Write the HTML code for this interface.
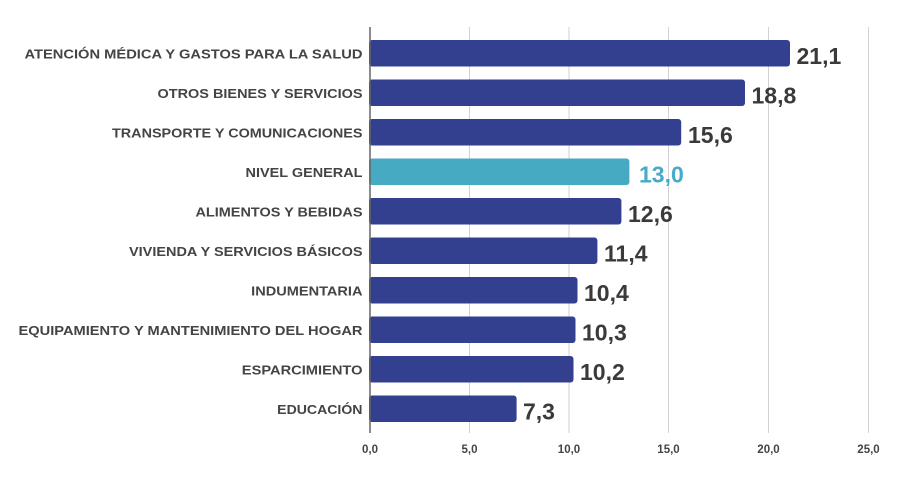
<!DOCTYPE html>
<html>
<head>
<meta charset="utf-8">
<style>
html,body{margin:0;padding:0;background:#fff;}
svg{display:block;}
text{font-family:"Liberation Sans",Arial,sans-serif;font-weight:bold;}
</style>
</head>
<body>
<svg width="900" height="486" viewBox="0 0 900 486" xmlns="http://www.w3.org/2000/svg">
  <rect width="900" height="486" fill="#fff"/>
  <!-- gridlines -->
  <g stroke="#d2d2d2" stroke-width="1">
    <line x1="469.5" y1="27" x2="469.5" y2="433"/>
    <line x1="569" y1="27" x2="569" y2="433"/>
    <line x1="668.5" y1="27" x2="668.5" y2="433"/>
    <line x1="768.5" y1="27" x2="768.5" y2="433"/>
    <line x1="868.5" y1="27" x2="868.5" y2="433"/>
  </g>
  <!-- bars -->
  <g fill="#333f8f">
    <rect x="369" y="40" width="421" height="26.5" rx="3"/>
    <rect x="369" y="79.5" width="376" height="26.5" rx="3"/>
    <rect x="369" y="119" width="312.2" height="26.5" rx="3"/>
    <rect x="369" y="198" width="252.4" height="26.5" rx="3"/>
    <rect x="369" y="237.5" width="228.4" height="26.5" rx="3"/>
    <rect x="369" y="277" width="208.5" height="26.5" rx="3"/>
    <rect x="369" y="316.5" width="206.5" height="26.5" rx="3"/>
    <rect x="369" y="356" width="204.5" height="26.5" rx="3"/>
    <rect x="369" y="395.5" width="147.6" height="26.5" rx="3"/>
  </g>
  <rect x="369" y="158.5" width="260.4" height="26.5" rx="3" fill="#46aac3"/>
  <!-- axis -->
  <line x1="370" y1="27" x2="370" y2="433" stroke="#666" stroke-width="1.5"/>
  <!-- category labels -->
  <g fill="#444" font-size="13" text-anchor="end">
    <text x="362.5" y="58.5" textLength="338" lengthAdjust="spacingAndGlyphs">ATENCIÓN MÉDICA Y GASTOS PARA LA SALUD</text>
    <text x="362.5" y="98" textLength="205" lengthAdjust="spacingAndGlyphs">OTROS BIENES Y SERVICIOS</text>
    <text x="362.5" y="137.5" textLength="250.5" lengthAdjust="spacingAndGlyphs">TRANSPORTE Y COMUNICACIONES</text>
    <text x="362.5" y="177" textLength="117" lengthAdjust="spacingAndGlyphs">NIVEL GENERAL</text>
    <text x="362.5" y="216.5" textLength="167" lengthAdjust="spacingAndGlyphs">ALIMENTOS Y BEBIDAS</text>
    <text x="362.5" y="256" textLength="233.5" lengthAdjust="spacingAndGlyphs">VIVIENDA Y SERVICIOS BÁSICOS</text>
    <text x="362.5" y="295.5" textLength="111.3" lengthAdjust="spacingAndGlyphs">INDUMENTARIA</text>
    <text x="362.5" y="335" textLength="344" lengthAdjust="spacingAndGlyphs">EQUIPAMIENTO Y MANTENIMIENTO DEL HOGAR</text>
    <text x="362.5" y="374.5" textLength="120.7" lengthAdjust="spacingAndGlyphs">ESPARCIMIENTO</text>
    <text x="362.5" y="414" textLength="85.3" lengthAdjust="spacingAndGlyphs">EDUCACIÓN</text>
  </g>
  <!-- value labels -->
  <g fill="#3a3a3a" font-size="23">
    <text x="796.5" y="64">21,1</text>
    <text x="751.5" y="103.5">18,8</text>
    <text x="688" y="143">15,6</text>
    <text x="628" y="222">12,6</text>
    <text x="604" y="261.5">11,4</text>
    <text x="584" y="301">10,4</text>
    <text x="582" y="340.5">10,3</text>
    <text x="580" y="380">10,2</text>
    <text x="523" y="419.5">7,3</text>
  </g>
  <text x="639" y="182.5" fill="#45abc8" font-size="23" style="font-weight:bold">13,0</text>
  <!-- tick labels -->
  <g fill="#444" font-size="11.5" text-anchor="middle">
    <text x="370" y="453">0,0</text>
    <text x="469.5" y="453">5,0</text>
    <text x="569" y="453">10,0</text>
    <text x="668.5" y="453">15,0</text>
    <text x="768.5" y="453">20,0</text>
    <text x="868.5" y="453">25,0</text>
  </g>
</svg>
</body>
</html>
